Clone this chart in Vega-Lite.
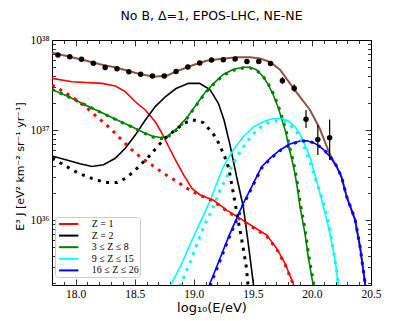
{
  "$schema": "https://vega.github.io/schema/vega-lite/v6.json",
  "width": 319,
  "height": 245,
  "autosize": {"type": "none"},
  "padding": {"left": 52, "top": 40, "right": 42, "bottom": 36},
  "background": "white",
  "title": {"text": "No B, Δ=1, EPOS-LHC, NE-NE", "font": "DejaVu Sans", "fontSize": 12.5, "fontWeight": "normal", "color": "black", "anchor": "middle", "baseline": "middle", "offset": 6},
  "config": {
    "view": {"stroke": "black", "strokeWidth": 1},
    "axis": {"grid": false, "domain": false, "tickColor": "black", "tickWidth": 0.8, "labelColor": "black", "labelFont": "Liberation Serif", "labelFontSize": 11.5, "titleFont": "DejaVu Sans", "titleFontWeight": "normal", "titleColor": "black", "labelFlush": false, "labelOverlap": false, "labelBound": false}
  },
  "datasets": {
    "total": [
      {"x": 17.8, "y": 7.23e37}, {"x": 17.924, "y": 6.64e37}, {"x": 18.065, "y": 6.0e37}, {"x": 18.206, "y": 5.37e37},
      {"x": 18.348, "y": 4.92e37}, {"x": 18.517, "y": 4.27e37}, {"x": 18.657, "y": 3.91e37}, {"x": 18.771, "y": 4.01e37},
      {"x": 18.883, "y": 4.65e37}, {"x": 18.996, "y": 5.27e37}, {"x": 19.109, "y": 5.89e37}, {"x": 19.222, "y": 6.16e37},
      {"x": 19.363, "y": 6.43e37}, {"x": 19.476, "y": 6.43e37}, {"x": 19.56, "y": 6.22e37}, {"x": 19.645, "y": 5.7e37},
      {"x": 19.73, "y": 4.68e37}, {"x": 19.814, "y": 3.3e37}, {"x": 19.899, "y": 2.34e37}, {"x": 19.984, "y": 1.67e37},
      {"x": 20.068, "y": 1.026e37}, {"x": 20.153, "y": 5.3e36}, {"x": 20.2, "y": 4.15e36}, {"x": 20.252, "y": 3.0e36},
      {"x": 20.294, "y": 1.84e36}, {"x": 20.365, "y": 1.02e36}, {"x": 20.407, "y": 5.1e35}, {"x": 20.449, "y": 2.05e35}, {"x": 20.46, "y": 1.45e35}
    ],
    "solid": [
      {"c": "Z = 1", "x": 17.8, "y": 3.75e37}, {"c": "Z = 1", "x": 17.969, "y": 3.44e37}, {"c": "Z = 1", "x": 18.223, "y": 3.3e37},
      {"c": "Z = 1", "x": 18.336, "y": 3.08e37}, {"c": "Z = 1", "x": 18.42, "y": 2.67e37}, {"c": "Z = 1", "x": 18.505, "y": 2.06e37},
      {"c": "Z = 1", "x": 18.59, "y": 1.67e37}, {"c": "Z = 1", "x": 18.674, "y": 1.236e37}, {"c": "Z = 1", "x": 18.731, "y": 9.18e36},
      {"c": "Z = 1", "x": 18.788, "y": 6.52e36}, {"c": "Z = 1", "x": 18.844, "y": 4.65e36}, {"c": "Z = 1", "x": 18.915, "y": 3.16e36},
      {"c": "Z = 1", "x": 18.985, "y": 2.25e36}, {"c": "Z = 1", "x": 19.053, "y": 1.9e36}, {"c": "Z = 1", "x": 19.165, "y": 1.67e36},
      {"c": "Z = 1", "x": 19.279, "y": 1.29e36}, {"c": "Z = 1", "x": 19.391, "y": 1.045e36}, {"c": "Z = 1", "x": 19.504, "y": 8.43e35},
      {"c": "Z = 1", "x": 19.617, "y": 6.81e35}, {"c": "Z = 1", "x": 19.702, "y": 4.85e35}, {"c": "Z = 1", "x": 19.772, "y": 3.3e35},
      {"c": "Z = 1", "x": 19.842, "y": 1.98e35}, {"c": "Z = 1", "x": 19.87, "y": 1.26e35},

      {"c": "Z = 2", "x": 17.8, "y": 5.16e36}, {"c": "Z = 2", "x": 17.924, "y": 4.65e36}, {"c": "Z = 2", "x": 18.037, "y": 4.23e36},
      {"c": "Z = 2", "x": 18.139, "y": 3.93e36}, {"c": "Z = 2", "x": 18.236, "y": 4.11e36}, {"c": "Z = 2", "x": 18.336, "y": 4.85e36},
      {"c": "Z = 2", "x": 18.42, "y": 6.27e36}, {"c": "Z = 2", "x": 18.505, "y": 8.79e36}, {"c": "Z = 2", "x": 18.59, "y": 1.29e37},
      {"c": "Z = 2", "x": 18.674, "y": 1.82e37}, {"c": "Z = 2", "x": 18.759, "y": 2.34e37}, {"c": "Z = 2", "x": 18.85, "y": 2.89e37},
      {"c": "Z = 2", "x": 18.955, "y": 3.3e37}, {"c": "Z = 2", "x": 19.048, "y": 3.3e37}, {"c": "Z = 2", "x": 19.137, "y": 2.82e37},
      {"c": "Z = 2", "x": 19.208, "y": 1.98e37}, {"c": "Z = 2", "x": 19.256, "y": 1.29e37}, {"c": "Z = 2", "x": 19.307, "y": 6.81e36},
      {"c": "Z = 2", "x": 19.363, "y": 3.006e36}, {"c": "Z = 2", "x": 19.419, "y": 1.406e36}, {"c": "Z = 2", "x": 19.461, "y": 5.51e35},
      {"c": "Z = 2", "x": 19.504, "y": 1.98e35}, {"c": "Z = 2", "x": 19.518, "y": 1.29e35},

      {"c": "3 ≤ Z ≤ 8", "x": 17.8, "y": 2.83e37}, {"c": "3 ≤ Z ≤ 8", "x": 17.941, "y": 2.34e37}, {"c": "3 ≤ Z ≤ 8", "x": 18.082, "y": 1.9e37},
      {"c": "3 ≤ Z ≤ 8", "x": 18.223, "y": 1.556e37}, {"c": "3 ≤ Z ≤ 8", "x": 18.365, "y": 1.268e37}, {"c": "3 ≤ Z ≤ 8", "x": 18.477, "y": 1.089e37},
      {"c": "3 ≤ Z ≤ 8", "x": 18.562, "y": 9.57e36}, {"c": "3 ≤ Z ≤ 8", "x": 18.646, "y": 8.57e36}, {"c": "3 ≤ Z ≤ 8", "x": 18.714, "y": 8.26e36},
      {"c": "3 ≤ Z ≤ 8", "x": 18.773, "y": 8.47e36}, {"c": "3 ≤ Z ≤ 8", "x": 18.858, "y": 1.04e37}, {"c": "3 ≤ Z ≤ 8", "x": 18.943, "y": 1.377e37},
      {"c": "3 ≤ Z ≤ 8", "x": 19.019, "y": 1.9e37}, {"c": "3 ≤ Z ≤ 8", "x": 19.095, "y": 2.61e37}, {"c": "3 ≤ Z ≤ 8", "x": 19.18, "y": 3.41e37},
      {"c": "3 ≤ Z ≤ 8", "x": 19.25, "y": 4.14e37}, {"c": "3 ≤ Z ≤ 8", "x": 19.332, "y": 4.7e37}, {"c": "3 ≤ Z ≤ 8", "x": 19.417, "y": 4.98e37},
      {"c": "3 ≤ Z ≤ 8", "x": 19.476, "y": 4.98e37}, {"c": "3 ≤ Z ≤ 8", "x": 19.533, "y": 4.65e37}, {"c": "3 ≤ Z ≤ 8", "x": 19.589, "y": 3.88e37},
      {"c": "3 ≤ Z ≤ 8", "x": 19.628, "y": 3.24e37}, {"c": "3 ≤ Z ≤ 8", "x": 19.673, "y": 2.45e37}, {"c": "3 ≤ Z ≤ 8", "x": 19.713, "y": 1.8e37},
      {"c": "3 ≤ Z ≤ 8", "x": 19.747, "y": 1.29e37}, {"c": "3 ≤ Z ≤ 8", "x": 19.781, "y": 9.18e36}, {"c": "3 ≤ Z ≤ 8", "x": 19.806, "y": 6.31e36},
      {"c": "3 ≤ Z ≤ 8", "x": 19.842, "y": 4.08e36}, {"c": "3 ≤ Z ≤ 8", "x": 19.871, "y": 2.56e36}, {"c": "3 ≤ Z ≤ 8", "x": 19.899, "y": 1.406e36},
      {"c": "3 ≤ Z ≤ 8", "x": 19.941, "y": 7.11e35}, {"c": "3 ≤ Z ≤ 8", "x": 19.969, "y": 3.91e35}, {"c": "3 ≤ Z ≤ 8", "x": 19.998, "y": 2.34e35},
      {"c": "3 ≤ Z ≤ 8", "x": 20.012, "y": 1.9e35}, {"c": "3 ≤ Z ≤ 8", "x": 20.022, "y": 1.47e35},

      {"c": "9 ≤ Z ≤ 15", "x": 18.782, "y": 1.47e35}, {"c": "9 ≤ Z ≤ 15", "x": 18.801, "y": 1.85e35}, {"c": "9 ≤ Z ≤ 15", "x": 18.9, "y": 3.3e35},
      {"c": "9 ≤ Z ≤ 15", "x": 18.985, "y": 6.0e35}, {"c": "9 ≤ Z ≤ 15", "x": 19.07, "y": 1.045e36}, {"c": "9 ≤ Z ≤ 15", "x": 19.14, "y": 1.67e36},
      {"c": "9 ≤ Z ≤ 15", "x": 19.25, "y": 3.91e36}, {"c": "9 ≤ Z ≤ 15", "x": 19.334, "y": 6.0e36}, {"c": "9 ≤ Z ≤ 15", "x": 19.419, "y": 8.43e36},
      {"c": "9 ≤ Z ≤ 15", "x": 19.504, "y": 1.079e37}, {"c": "9 ≤ Z ≤ 15", "x": 19.588, "y": 1.236e37}, {"c": "9 ≤ Z ≤ 15", "x": 19.659, "y": 1.324e37},
      {"c": "9 ≤ Z ≤ 15", "x": 19.744, "y": 1.35e37}, {"c": "9 ≤ Z ≤ 15", "x": 19.8, "y": 1.259e37}, {"c": "9 ≤ Z ≤ 15", "x": 19.857, "y": 1.089e37},
      {"c": "9 ≤ Z ≤ 15", "x": 19.899, "y": 9.04e36}, {"c": "9 ≤ Z ≤ 15", "x": 19.941, "y": 6.81e36}, {"c": "9 ≤ Z ≤ 15", "x": 19.984, "y": 5.01e36},
      {"c": "9 ≤ Z ≤ 15", "x": 20.026, "y": 3.16e36}, {"c": "9 ≤ Z ≤ 15", "x": 20.083, "y": 1.67e36}, {"c": "9 ≤ Z ≤ 15", "x": 20.139, "y": 8.43e35},
      {"c": "9 ≤ Z ≤ 15", "x": 20.181, "y": 4.65e35}, {"c": "9 ≤ Z ≤ 15", "x": 20.208, "y": 2.78e35}, {"c": "9 ≤ Z ≤ 15", "x": 20.221, "y": 1.98e35},
      {"c": "9 ≤ Z ≤ 15", "x": 20.229, "y": 1.47e35},

      {"c": "16 ≤ Z ≤ 26", "x": 19.129, "y": 1.67e35}, {"c": "16 ≤ Z ≤ 26", "x": 19.137, "y": 1.98e35}, {"c": "16 ≤ Z ≤ 26", "x": 19.194, "y": 3.03e35},
      {"c": "16 ≤ Z ≤ 26", "x": 19.25, "y": 4.65e35}, {"c": "16 ≤ Z ≤ 26", "x": 19.307, "y": 7.11e35}, {"c": "16 ≤ Z ≤ 26", "x": 19.363, "y": 1.045e36},
      {"c": "16 ≤ Z ≤ 26", "x": 19.419, "y": 1.535e36}, {"c": "16 ≤ Z ≤ 26", "x": 19.476, "y": 2.15e36}, {"c": "16 ≤ Z ≤ 26", "x": 19.518, "y": 2.78e36},
      {"c": "16 ≤ Z ≤ 26", "x": 19.575, "y": 3.91e36}, {"c": "16 ≤ Z ≤ 26", "x": 19.645, "y": 4.85e36}, {"c": "16 ≤ Z ≤ 26", "x": 19.73, "y": 6.0e36},
      {"c": "16 ≤ Z ≤ 26", "x": 19.814, "y": 6.98e36}, {"c": "16 ≤ Z ≤ 26", "x": 19.899, "y": 7.55e36}, {"c": "16 ≤ Z ≤ 26", "x": 19.958, "y": 7.6e36},
      {"c": "16 ≤ Z ≤ 26", "x": 20.026, "y": 7.11e36}, {"c": "16 ≤ Z ≤ 26", "x": 20.096, "y": 6.11e36}, {"c": "16 ≤ Z ≤ 26", "x": 20.153, "y": 5.05e36},
      {"c": "16 ≤ Z ≤ 26", "x": 20.21, "y": 3.91e36}, {"c": "16 ≤ Z ≤ 26", "x": 20.252, "y": 2.93e36}, {"c": "16 ≤ Z ≤ 26", "x": 20.294, "y": 1.8e36},
      {"c": "16 ≤ Z ≤ 26", "x": 20.365, "y": 1.0e36}, {"c": "16 ≤ Z ≤ 26", "x": 20.407, "y": 5.01e35}, {"c": "16 ≤ Z ≤ 26", "x": 20.449, "y": 2.0e35},
      {"c": "16 ≤ Z ≤ 26", "x": 20.458, "y": 1.47e35}
    ],
    "dotted": [
      {"c": "Z = 1", "x": 17.8, "y": 3.16e37}, {"c": "Z = 1", "x": 17.899, "y": 2.67e37}, {"c": "Z = 1", "x": 17.984, "y": 2.25e37},
      {"c": "Z = 1", "x": 18.082, "y": 1.82e37}, {"c": "Z = 1", "x": 18.195, "y": 1.35e37}, {"c": "Z = 1", "x": 18.293, "y": 1.045e37},
      {"c": "Z = 1", "x": 18.392, "y": 7.74e36}, {"c": "Z = 1", "x": 18.477, "y": 6.0e36}, {"c": "Z = 1", "x": 18.562, "y": 4.85e36},
      {"c": "Z = 1", "x": 18.646, "y": 4.08e36}, {"c": "Z = 1", "x": 18.745, "y": 3.3e36}, {"c": "Z = 1", "x": 18.844, "y": 2.75e36},
      {"c": "Z = 1", "x": 18.943, "y": 2.25e36}, {"c": "Z = 1", "x": 19.027, "y": 1.945e36}, {"c": "Z = 1", "x": 19.165, "y": 1.63e36},
      {"c": "Z = 1", "x": 19.279, "y": 1.26e36}, {"c": "Z = 1", "x": 19.391, "y": 1.02e36}, {"c": "Z = 1", "x": 19.504, "y": 8.22e35},
      {"c": "Z = 1", "x": 19.617, "y": 6.64e35}, {"c": "Z = 1", "x": 19.702, "y": 4.74e35}, {"c": "Z = 1", "x": 19.772, "y": 3.22e35},
      {"c": "Z = 1", "x": 19.842, "y": 1.93e35}, {"c": "Z = 1", "x": 19.87, "y": 1.23e35},

      {"c": "Z = 2", "x": 17.8, "y": 4.82e36}, {"c": "Z = 2", "x": 17.828, "y": 4.65e36}, {"c": "Z = 2", "x": 17.927, "y": 3.91e36},
      {"c": "Z = 2", "x": 18.026, "y": 3.3e36}, {"c": "Z = 2", "x": 18.139, "y": 2.9e36}, {"c": "Z = 2", "x": 18.251, "y": 2.61e36},
      {"c": "Z = 2", "x": 18.35, "y": 2.61e36}, {"c": "Z = 2", "x": 18.42, "y": 2.9e36}, {"c": "Z = 2", "x": 18.491, "y": 3.44e36},
      {"c": "Z = 2", "x": 18.562, "y": 4.27e36}, {"c": "Z = 2", "x": 18.632, "y": 5.27e36}, {"c": "Z = 2", "x": 18.703, "y": 6.81e36},
      {"c": "Z = 2", "x": 18.773, "y": 8.43e36}, {"c": "Z = 2", "x": 18.844, "y": 1.0e37}, {"c": "Z = 2", "x": 18.915, "y": 1.186e37},
      {"c": "Z = 2", "x": 18.985, "y": 1.29e37}, {"c": "Z = 2", "x": 19.036, "y": 1.276e37}, {"c": "Z = 2", "x": 19.081, "y": 1.205e37},
      {"c": "Z = 2", "x": 19.123, "y": 1.045e37}, {"c": "Z = 2", "x": 19.163, "y": 9.14e36}, {"c": "Z = 2", "x": 19.197, "y": 7.74e36},
      {"c": "Z = 2", "x": 19.222, "y": 6.64e36}, {"c": "Z = 2", "x": 19.25, "y": 5.51e36}, {"c": "Z = 2", "x": 19.273, "y": 4.65e36},
      {"c": "Z = 2", "x": 19.296, "y": 3.78e36}, {"c": "Z = 2", "x": 19.319, "y": 2.58e36}, {"c": "Z = 2", "x": 19.345, "y": 1.67e36},
      {"c": "Z = 2", "x": 19.37, "y": 1.09e36}, {"c": "Z = 2", "x": 19.396, "y": 7.11e35}, {"c": "Z = 2", "x": 19.421, "y": 4.65e35},
      {"c": "Z = 2", "x": 19.446, "y": 2.93e35}, {"c": "Z = 2", "x": 19.459, "y": 1.9e35}, {"c": "Z = 2", "x": 19.467, "y": 1.47e35},

      {"c": "3 ≤ Z ≤ 8", "x": 17.8, "y": 2.83e37}, {"c": "3 ≤ Z ≤ 8", "x": 17.941, "y": 2.34e37}, {"c": "3 ≤ Z ≤ 8", "x": 18.082, "y": 1.9e37},
      {"c": "3 ≤ Z ≤ 8", "x": 18.223, "y": 1.55e37}, {"c": "3 ≤ Z ≤ 8", "x": 18.365, "y": 1.26e37}, {"c": "3 ≤ Z ≤ 8", "x": 18.477, "y": 1.08e37},
      {"c": "3 ≤ Z ≤ 8", "x": 18.562, "y": 9.45e36}, {"c": "3 ≤ Z ≤ 8", "x": 18.646, "y": 8.4e36}, {"c": "3 ≤ Z ≤ 8", "x": 18.714, "y": 8.0e36},
      {"c": "3 ≤ Z ≤ 8", "x": 18.773, "y": 8.2e36}, {"c": "3 ≤ Z ≤ 8", "x": 18.858, "y": 1.01e37}, {"c": "3 ≤ Z ≤ 8", "x": 18.943, "y": 1.35e37},
      {"c": "3 ≤ Z ≤ 8", "x": 19.019, "y": 1.86e37}, {"c": "3 ≤ Z ≤ 8", "x": 19.095, "y": 2.56e37}, {"c": "3 ≤ Z ≤ 8", "x": 19.18, "y": 3.35e37},
      {"c": "3 ≤ Z ≤ 8", "x": 19.25, "y": 4.05e37}, {"c": "3 ≤ Z ≤ 8", "x": 19.332, "y": 4.6e37}, {"c": "3 ≤ Z ≤ 8", "x": 19.417, "y": 4.88e37},
      {"c": "3 ≤ Z ≤ 8", "x": 19.476, "y": 4.9e37}, {"c": "3 ≤ Z ≤ 8", "x": 19.533, "y": 4.6e37}, {"c": "3 ≤ Z ≤ 8", "x": 19.589, "y": 3.9e37},
      {"c": "3 ≤ Z ≤ 8", "x": 19.628, "y": 3.3e37}, {"c": "3 ≤ Z ≤ 8", "x": 19.673, "y": 2.55e37}, {"c": "3 ≤ Z ≤ 8", "x": 19.713, "y": 1.9e37},
      {"c": "3 ≤ Z ≤ 8", "x": 19.747, "y": 1.38e37}, {"c": "3 ≤ Z ≤ 8", "x": 19.781, "y": 9.9e36}, {"c": "3 ≤ Z ≤ 8", "x": 19.806, "y": 6.9e36},
      {"c": "3 ≤ Z ≤ 8", "x": 19.842, "y": 4.5e36}, {"c": "3 ≤ Z ≤ 8", "x": 19.871, "y": 2.85e36}, {"c": "3 ≤ Z ≤ 8", "x": 19.899, "y": 1.6e36},
      {"c": "3 ≤ Z ≤ 8", "x": 19.941, "y": 8.0e35}, {"c": "3 ≤ Z ≤ 8", "x": 19.969, "y": 4.4e35}, {"c": "3 ≤ Z ≤ 8", "x": 19.998, "y": 2.6e35},
      {"c": "3 ≤ Z ≤ 8", "x": 20.012, "y": 2.1e35}, {"c": "3 ≤ Z ≤ 8", "x": 20.03, "y": 1.4e35},

      {"c": "9 ≤ Z ≤ 15", "x": 18.875, "y": 1.47e35}, {"c": "9 ≤ Z ≤ 15", "x": 18.886, "y": 1.85e35}, {"c": "9 ≤ Z ≤ 15", "x": 18.928, "y": 2.56e35},
      {"c": "9 ≤ Z ≤ 15", "x": 18.971, "y": 3.44e35}, {"c": "9 ≤ Z ≤ 15", "x": 19.013, "y": 4.85e35}, {"c": "9 ≤ Z ≤ 15", "x": 19.055, "y": 6.81e35},
      {"c": "9 ≤ Z ≤ 15", "x": 19.098, "y": 9.18e35}, {"c": "9 ≤ Z ≤ 15", "x": 19.14, "y": 1.186e36}, {"c": "9 ≤ Z ≤ 15", "x": 19.18, "y": 1.535e36},
      {"c": "9 ≤ Z ≤ 15", "x": 19.222, "y": 2.15e36}, {"c": "9 ≤ Z ≤ 15", "x": 19.279, "y": 3.03e36}, {"c": "9 ≤ Z ≤ 15", "x": 19.336, "y": 4.27e36},
      {"c": "9 ≤ Z ≤ 15", "x": 19.391, "y": 5.74e36}, {"c": "9 ≤ Z ≤ 15", "x": 19.461, "y": 7.74e36}, {"c": "9 ≤ Z ≤ 15", "x": 19.533, "y": 1.0e37},
      {"c": "9 ≤ Z ≤ 15", "x": 19.617, "y": 1.186e37}, {"c": "9 ≤ Z ≤ 15", "x": 19.687, "y": 1.259e37}, {"c": "9 ≤ Z ≤ 15", "x": 19.758, "y": 1.259e37},
      {"c": "9 ≤ Z ≤ 15", "x": 19.814, "y": 1.138e37}, {"c": "9 ≤ Z ≤ 15", "x": 19.871, "y": 9.57e36}, {"c": "9 ≤ Z ≤ 15", "x": 19.913, "y": 7.74e36},
      {"c": "9 ≤ Z ≤ 15", "x": 19.956, "y": 5.51e36}, {"c": "9 ≤ Z ≤ 15", "x": 19.998, "y": 3.83e36}, {"c": "9 ≤ Z ≤ 15", "x": 20.034, "y": 2.78e36},
      {"c": "9 ≤ Z ≤ 15", "x": 20.089, "y": 1.67e36}, {"c": "9 ≤ Z ≤ 15", "x": 20.139, "y": 9.51e35}, {"c": "9 ≤ Z ≤ 15", "x": 20.17, "y": 5.7e35},
      {"c": "9 ≤ Z ≤ 15", "x": 20.2, "y": 3.3e35}, {"c": "9 ≤ Z ≤ 15", "x": 20.219, "y": 2.15e35}, {"c": "9 ≤ Z ≤ 15", "x": 20.229, "y": 1.47e35},

      {"c": "16 ≤ Z ≤ 26", "x": 19.125, "y": 1.5e35}, {"c": "16 ≤ Z ≤ 26", "x": 19.137, "y": 1.85e35}, {"c": "16 ≤ Z ≤ 26", "x": 19.194, "y": 2.85e35},
      {"c": "16 ≤ Z ≤ 26", "x": 19.25, "y": 4.4e35}, {"c": "16 ≤ Z ≤ 26", "x": 19.307, "y": 6.8e35}, {"c": "16 ≤ Z ≤ 26", "x": 19.363, "y": 1.0e36},
      {"c": "16 ≤ Z ≤ 26", "x": 19.419, "y": 1.48e36}, {"c": "16 ≤ Z ≤ 26", "x": 19.476, "y": 2.08e36}, {"c": "16 ≤ Z ≤ 26", "x": 19.518, "y": 2.7e36},
      {"c": "16 ≤ Z ≤ 26", "x": 19.575, "y": 3.8e36}, {"c": "16 ≤ Z ≤ 26", "x": 19.645, "y": 4.75e36}, {"c": "16 ≤ Z ≤ 26", "x": 19.73, "y": 5.9e36},
      {"c": "16 ≤ Z ≤ 26", "x": 19.814, "y": 6.9e36}, {"c": "16 ≤ Z ≤ 26", "x": 19.899, "y": 7.5e36}, {"c": "16 ≤ Z ≤ 26", "x": 19.958, "y": 7.6e36},
      {"c": "16 ≤ Z ≤ 26", "x": 20.026, "y": 7.15e36}, {"c": "16 ≤ Z ≤ 26", "x": 20.096, "y": 6.15e36}, {"c": "16 ≤ Z ≤ 26", "x": 20.153, "y": 5.1e36},
      {"c": "16 ≤ Z ≤ 26", "x": 20.21, "y": 3.95e36}, {"c": "16 ≤ Z ≤ 26", "x": 20.252, "y": 2.98e36}, {"c": "16 ≤ Z ≤ 26", "x": 20.294, "y": 1.83e36},
      {"c": "16 ≤ Z ≤ 26", "x": 20.365, "y": 1.02e36}, {"c": "16 ≤ Z ≤ 26", "x": 20.407, "y": 5.1e35}, {"c": "16 ≤ Z ≤ 26", "x": 20.449, "y": 2.05e35},
      {"c": "16 ≤ Z ≤ 26", "x": 20.46, "y": 1.45e35}
    ],
    "obs": [
      {"x": 17.85, "y": 6.81e37, "lo": 6.65e37, "hi": 6.97e37}, {"x": 17.95, "y": 6.52e37, "lo": 6.38e37, "hi": 6.66e37},
      {"x": 18.05, "y": 6.11e37, "lo": 5.98e37, "hi": 6.24e37}, {"x": 18.15, "y": 5.51e37, "lo": 5.39e37, "hi": 5.63e37},
      {"x": 18.25, "y": 4.94e37, "lo": 4.83e37, "hi": 5.05e37}, {"x": 18.35, "y": 4.8e37, "lo": 4.69e37, "hi": 4.91e37},
      {"x": 18.45, "y": 4.44e37, "lo": 4.34e37, "hi": 4.54e37}, {"x": 18.55, "y": 4.16e37, "lo": 4.06e37, "hi": 4.26e37},
      {"x": 18.65, "y": 3.98e37, "lo": 3.88e37, "hi": 4.08e37}, {"x": 18.75, "y": 3.98e37, "lo": 3.88e37, "hi": 4.08e37},
      {"x": 18.85, "y": 4.47e37, "lo": 4.35e37, "hi": 4.59e37}, {"x": 18.95, "y": 5.01e37, "lo": 4.87e37, "hi": 5.15e37},
      {"x": 19.05, "y": 5.55e37, "lo": 5.38e37, "hi": 5.72e37}, {"x": 19.15, "y": 6.0e37, "lo": 5.8e37, "hi": 6.2e37},
      {"x": 19.25, "y": 6.04e37, "lo": 5.82e37, "hi": 6.26e37}, {"x": 19.35, "y": 6.15e37, "lo": 5.9e37, "hi": 6.4e37},
      {"x": 19.45, "y": 5.77e37, "lo": 5.5e37, "hi": 6.05e37}, {"x": 19.55, "y": 5.77e37, "lo": 5.47e37, "hi": 6.08e37},
      {"x": 19.65, "y": 5.48e37, "lo": 5.15e37, "hi": 5.82e37}, {"x": 19.75, "y": 3.53e37, "lo": 3.24e37, "hi": 3.88e37},
      {"x": 19.85, "y": 2.91e37, "lo": 2.67e37, "hi": 3.22e37}, {"x": 19.95, "y": 1.315e37, "lo": 1.05e37, "hi": 1.67e37},
      {"x": 20.05, "y": 7.84e36, "lo": 5.27e36, "hi": 1.14e37}, {"x": 20.15, "y": 8.2e36, "lo": 4.64e36, "hi": 1.31e37}
    ]
  },
  "layer": [
    {
      "data": {"name": "total"},
      "mark": {"type": "line", "color": "#8c564b", "strokeWidth": 2, "clip": true},
      "encoding": {
        "x": {"field": "x", "type": "quantitative", "scale": {"domain": [17.8, 20.5], "nice": false, "zero": false},
          "axis": {"orient": "bottom", "values": [18, 18.5, 19, 19.5, 20, 20.5], "format": ".1f", "tickSize": -6, "labelPadding": 9, "title": "log₁₀(E/eV)", "titleFontSize": 13, "titlePadding": 2}},
        "y": {"field": "y", "type": "quantitative", "scale": {"type": "log", "domain": [1.9e35, 1e38], "nice": false, "zero": false},
          "axis": {"orient": "left", "values": [1e36, 1e37, 1e38], "tickSize": -6, "labelPadding": 9, "labelExpr": "datum.value > 5e37 ? '10³⁸' : datum.value > 5e36 ? '10³⁷' : '10³⁶'", "title": "E³ J [eV² km⁻² sr⁻¹ yr⁻¹]", "titleFontSize": 11, "titlePadding": 5, "titleY": 126}}
      }
    },
    {
      "data": {"name": "solid"},
      "mark": {"type": "line", "strokeWidth": 1.6, "clip": true},
      "encoding": {
        "x": {"field": "x", "type": "quantitative",
          "axis": {"orient": "bottom", "values": [17.8, 17.9, 18.1, 18.2, 18.3, 18.4, 18.6, 18.7, 18.8, 18.9, 19.1, 19.2, 19.3, 19.4, 19.6, 19.7, 19.8, 19.9, 20.1, 20.2, 20.3, 20.4], "tickSize": -3.5, "labels": false, "title": null}},
        "y": {"field": "y", "type": "quantitative",
          "axis": {"orient": "left", "values": [2e35, 3e35, 4e35, 5e35, 6e35, 7e35, 8e35, 9e35, 2e36, 3e36, 4e36, 5e36, 6e36, 7e36, 8e36, 9e36, 2e37, 3e37, 4e37, 5e37, 6e37, 7e37, 8e37, 9e37], "tickSize": -3.5, "labels": false, "title": null}},
        "detail": {"field": "c"},
        "color": {"field": "c", "type": "nominal",
          "scale": {"domain": ["Z = 1", "Z = 2", "3 ≤ Z ≤ 8", "9 ≤ Z ≤ 15", "16 ≤ Z ≤ 26"], "range": ["#ff0000", "#000000", "#008000", "#00ffff", "#0000ff"]},
          "legend": {"orient": "none", "legendX": 3, "legendY": 177, "title": null, "symbolType": "M-1.93,0H1.93", "symbolSize": 100, "symbolStrokeWidth": 2, "symbolOffset": 6.7, "labelOffset": 17, "labelFont": "Liberation Serif", "labelFontSize": 10, "labelColor": "black", "rowPadding": 0.6, "padding": 1, "fillColor": "white", "strokeColor": "#cccccc", "cornerRadius": 3}}
      }
    },
    {
      "data": {"name": "dotted"},
      "mark": {"type": "line", "strokeWidth": 3, "strokeDash": [3, 5.5], "strokeCap": "butt", "clip": true},
      "encoding": {
        "x": {"field": "x", "type": "quantitative",
          "axis": {"orient": "top", "values": [18, 18.5, 19, 19.5, 20, 20.5], "tickSize": -6, "labels": false, "title": null}},
        "y": {"field": "y", "type": "quantitative",
          "axis": {"orient": "right", "values": [1e36, 1e37, 1e38], "tickSize": -6, "labels": false, "title": null}},
        "detail": {"field": "c"},
        "color": {"field": "c", "type": "nominal", "legend": null}
      }
    },
    {
      "data": {"name": "obs"},
      "mark": {"type": "rule", "color": "black", "strokeWidth": 1.2, "clip": true},
      "encoding": {
        "x": {"field": "x", "type": "quantitative",
          "axis": {"orient": "top", "values": [17.8, 17.9, 18.1, 18.2, 18.3, 18.4, 18.6, 18.7, 18.8, 18.9, 19.1, 19.2, 19.3, 19.4, 19.6, 19.7, 19.8, 19.9, 20.1, 20.2, 20.3, 20.4], "tickSize": -3.5, "labels": false, "title": null}},
        "y": {"field": "lo", "type": "quantitative",
          "axis": {"orient": "right", "values": [2e35, 3e35, 4e35, 5e35, 6e35, 7e35, 8e35, 9e35, 2e36, 3e36, 4e36, 5e36, 6e36, 7e36, 8e36, 9e36, 2e37, 3e37, 4e37, 5e37, 6e37, 7e37, 8e37, 9e37], "tickSize": -3.5, "labels": false, "title": null}},
        "y2": {"field": "hi"}
      }
    },
    {
      "data": {"name": "obs"},
      "mark": {"type": "circle", "color": "black", "opacity": 1, "size": 30, "clip": true},
      "encoding": {
        "x": {"field": "x", "type": "quantitative", "axis": null},
        "y": {"field": "y", "type": "quantitative", "axis": null}
      }
    }
  ],
  "resolve": {"axis": {"x": "independent", "y": "independent"}}
}
